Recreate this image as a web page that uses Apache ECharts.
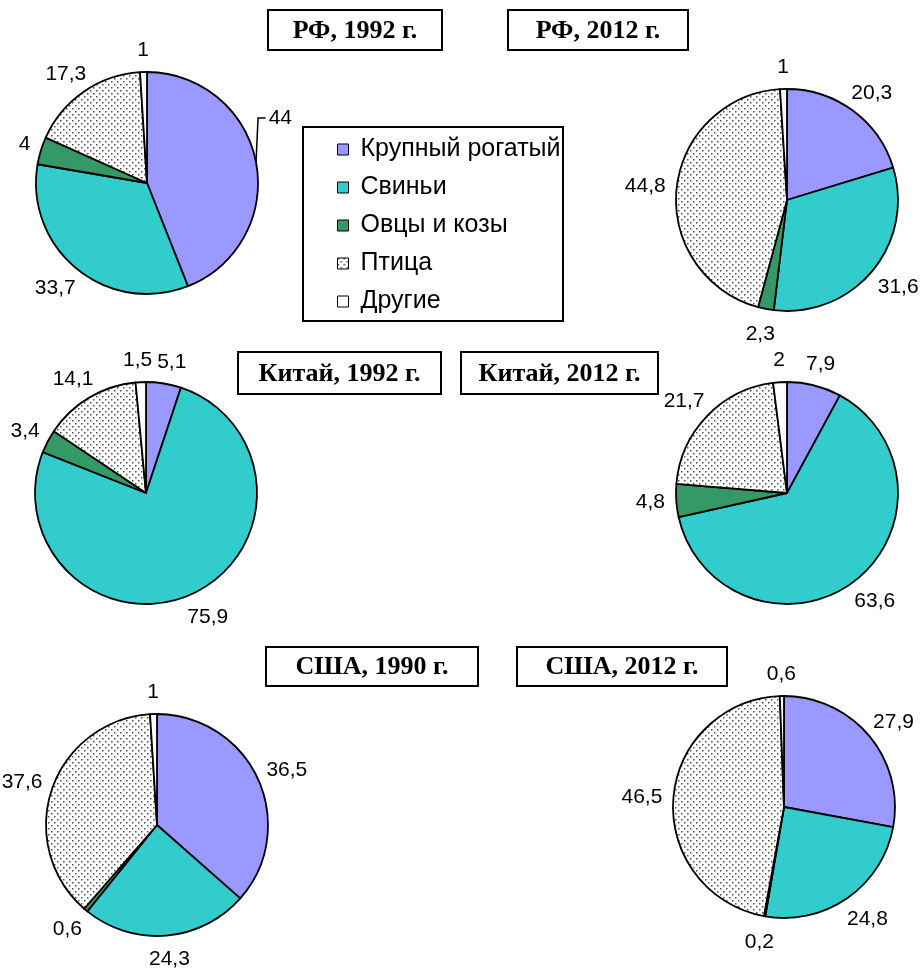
<!DOCTYPE html>
<html><head><meta charset="utf-8">
<script src="https://cdn.jsdelivr.net/npm/echarts@6/dist/echarts.min.js"></script>
<style>html,body{margin:0;padding:0;background:#fff}#c{width:923px;height:968px}</style>
</head><body><div id="c"></div>
<script>
// ---- data ----
const categories = ['Крупный рогатый', 'Свиньи', 'Овцы и козы', 'Птица', 'Другие'];
const titles = ['РФ, 1992 г.', 'РФ, 2012 г.', 'Китай, 1992 г.', 'Китай, 2012 г.', 'США, 1990 г.', 'США, 2012 г.'];
const rf1992 = [44, 33.7, 4, 17.3, 1];
const rf2012 = [20.3, 31.6, 2.3, 44.8, 1];
const cn1992 = [5.1, 75.9, 3.4, 14.1, 1.5];
const cn2012 = [7.9, 63.6, 4.8, 21.7, 2];
const us1990 = [36.5, 24.3, 0.6, 37.6, 1];
const us2012 = [27.9, 24.8, 0.2, 46.5, 0.6];

// ---- styling / layout ----
const pat = document.createElement('canvas');
pat.width = 6; pat.height = 6;
(function () {
  const g = pat.getContext('2d');
  g.fillStyle = '#ffffff'; g.fillRect(0, 0, 6, 6);
  g.fillStyle = '#4d4d4d';
  g.fillRect(0, 0, 1.5, 1.5);
  g.fillRect(3, 3, 1.5, 1.5);
})();
const colors = ['#9999FF', '#33CCCC', '#339966', { image: pat, repeat: 'repeat' }, '#FFFFFF'];

const R = 111;
const pies = [
  { values: rf1992, center: [147, 183] },
  { values: rf2012, center: [787, 200] },
  { values: cn1992, center: [146, 493] },
  { values: cn2012, center: [787, 493] },
  { values: us1990, center: [157, 825] },
  { values: us2012, center: [784, 807] }
];
const titleBoxes = [
  [268, 10, 174, 40], [508, 10, 180, 40],
  [238, 352, 203, 42], [461, 352, 197, 42],
  [266, 647, 212, 39], [517, 647, 210, 39]
];
// per-label manual nudges (series index -> data index -> [dx, dy]) and leader line
const labelNudge = { 0: { 0: [2, -40] }, 2: { 0: [4, 0], 4: [-2, 0] }, 4: { 1: [0, -2] } };
const leader = { 0: { 0: true } };

function fmt(v) { return String(v).replace('.', ','); }

// place each label outside its slice along the slice's radial direction,
// taken from the library's own default outside-label anchor
function place(params, c, si) {
  const r = params.labelRect;
  const ax = params.align === 'left' ? r.x : (params.align === 'right' ? r.x + r.width : r.x + r.width / 2);
  const ay = r.y + r.height / 2;
  let ux = ax - c[0], uy = ay - c[1];
  const L = Math.hypot(ux, uy) || 1; ux /= L; uy /= L;
  const g = 11 + 4 * Math.max(0, uy);
  const d = R + g;
  const n = (labelNudge[si] && labelNudge[si][params.dataIndex]) || [0, 0];
  const x = c[0] + ux * d + ux * r.width / 2 + n[0];
  const y = c[1] + uy * d + uy * r.height / 2 + n[1];
  const out = { x: x, y: y, align: 'center', verticalAlign: 'middle' };
  if (leader[si] && leader[si][params.dataIndex] && params.labelLinePoints) {
    const p0 = params.labelLinePoints[0];
    const left = x - r.width / 2 - 3;
    out.labelLinePoints = [[p0[0], p0[1]], [p0[0] + 2, y], [left, y]];
  }
  return out;
}

const series = pies.map((p, si) => ({
  type: 'pie',
  name: titles[si],
  center: p.center,
  radius: R,
  startAngle: 90,
  clockwise: true,
  avoidLabelOverlap: false,
  animation: false,
  silent: true,
  itemStyle: { borderColor: '#000', borderWidth: 1.8 },
  label: {
    show: true, position: 'outside', formatter: d => fmt(d.value),
    color: '#000', fontFamily: 'Liberation Sans, Arial', fontSize: 21, lineHeight: 22, distanceToLabelLine: 0
  },
  labelLine: { show: false, length: 10, length2: 0, lineStyle: { color: '#000', width: 1.5 } },
  labelLayout: params => place(params, p.center, si),
  emphasis: { disabled: true },
  data: categories.map((c, i) => ({
    name: c, value: p.values[i], itemStyle: { color: colors[i] },
    labelLine: { show: !!(leader[si] && leader[si][i]) }
  }))
}));

const graphic = [
  { type: 'rect', shape: { x: 303, y: 127, width: 260, height: 194 }, style: { fill: 'none', stroke: '#000', lineWidth: 2 } }
];
titleBoxes.forEach((b, i) => {
  graphic.push({ type: 'rect', shape: { x: b[0], y: b[1], width: b[2], height: b[3] }, style: { fill: '#fff', stroke: '#000', lineWidth: 2 } });
  graphic.push({ type: 'text', x: b[0] + b[2] / 2, y: b[1] + b[3] / 2 + 1,
    style: { text: titles[i], fontSize: 26, fontWeight: 'bold', fontFamily: 'Liberation Serif, Times New Roman', align: 'center', verticalAlign: 'middle', fill: '#000' } });
});

const chart = echarts.init(document.getElementById('c'));
chart.setOption({
  backgroundColor: '#fff',
  animation: false,
  legend: {
    orient: 'vertical', left: 337, top: 137, padding: 0,
    itemWidth: 11, itemHeight: 11, itemGap: 13, selectedMode: false, icon: 'rect',
    textStyle: { fontFamily: 'Liberation Sans, Arial', fontSize: 25, color: '#000', lineHeight: 24, padding: [0, 0, 0, 7] },
    itemStyle: { borderColor: '#000', borderWidth: 1 },
    data: categories
  },
  graphic: graphic,
  series: series
});
</script>
</body></html>
